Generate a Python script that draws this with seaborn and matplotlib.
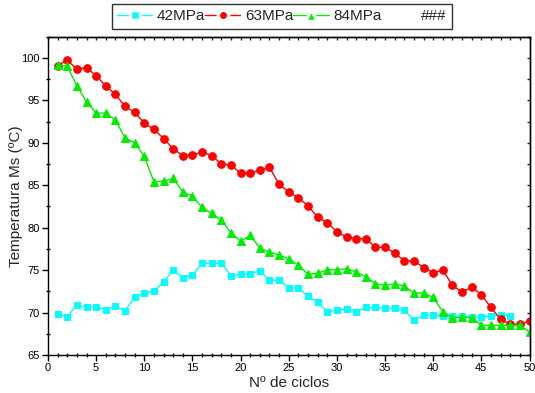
import numpy as np
import pandas as pd
import matplotlib
matplotlib.use("Agg")
import matplotlib.pyplot as plt
from matplotlib.lines import Line2D
from matplotlib.ticker import MultipleLocator
import seaborn as sns

ciclos_42 = list(range(1, 49))
temp_42 = [69.8, 69.5, 70.9, 70.6, 70.7, 70.3, 70.8, 70.2, 71.8, 72.3,
           72.5, 73.6, 75.0, 74.1, 74.4, 75.8, 75.8, 75.8, 74.3, 74.5,
           74.6, 74.9, 73.8, 73.8, 72.9, 72.9, 71.9, 71.2, 70.1, 70.3,
           70.4, 70.1, 70.6, 70.6, 70.5, 70.5, 70.25, 69.1, 69.7, 69.7,
           69.65, 69.6, 69.6, 69.5, 69.45, 69.65, 69.7, 69.6]

ciclos_63 = list(range(1, 51))
temp_63 = [99.1, 99.75, 98.65, 98.85, 97.9, 96.7, 95.7, 94.3, 93.6, 92.3,
           91.6, 90.5, 89.3, 88.5, 88.6, 88.9, 88.5, 87.5, 87.4, 86.4,
           86.4, 86.8, 87.1, 85.1, 84.2, 83.5, 82.6, 81.2, 80.6, 79.5,
           78.9, 78.7, 78.7, 77.7, 77.7, 77.0, 76.1, 76.1, 75.3, 74.7,
           75.0, 73.2, 72.4, 73.0, 72.1, 70.6, 69.2, 68.6, 68.6, 69.0]

ciclos_84 = list(range(1, 51))
temp_84 = [99.2, 99.0, 96.7, 94.85, 93.5, 93.5, 92.7, 90.55, 90.0, 88.4,
           85.4, 85.5, 85.8, 84.2, 83.7, 82.4, 81.7, 80.9, 79.4, 78.4,
           79.1, 77.6, 77.1, 76.8, 76.3, 75.6, 74.5, 74.65, 75.05, 75.05,
           75.15, 74.8, 74.2, 73.4, 73.2, 73.4, 73.1, 72.3, 72.3, 71.8,
           70.1, 69.4, 69.45, 69.4, 68.5, 68.5, 68.5, 68.5, 68.5, 67.7]

labels = ["42MPa", "63MPa", "84MPa", "###"]
colors = ["#00FFFF", "#FF0000", "#00EE00"]
markers = ["s", "o", "^"]

sns.set_style("ticks")
plt.rcParams['font.family'] = ['Liberation Sans', 'DejaVu Sans']
plt.rcParams['axes.linewidth'] = 1.0

fig = plt.figure(figsize=(5.35, 3.93), dpi=100)
ax = fig.add_axes([48/535, 1-355/393, (529.5-48)/535, (355-36.7)/393])

series = [(ciclos_42, temp_42), (ciclos_63, temp_63), (ciclos_84, temp_84)]
for (xs, ys), c, m, lab in zip(series, colors, markers, labels[:3]):
    df = pd.DataFrame({"x": xs, "y": ys})
    sns.lineplot(data=df, x="x", y="y", ax=ax, color=c, marker=m,
                 markersize=5.5 if m != "s" else 5, markeredgecolor=c,
                 linewidth=1.0, label=lab, legend=False)

ax.set_xlim(0, 50)
ax.set_ylim(65, 102.5)
ax.xaxis.set_major_locator(MultipleLocator(5))
ax.xaxis.set_minor_locator(MultipleLocator(1))
ax.yaxis.set_major_locator(MultipleLocator(5))
ax.yaxis.set_minor_locator(MultipleLocator(2.5))
ax.tick_params(axis='both', which='major', direction='out', length=4, width=1,
               labelsize=8, color='black', labelcolor='black', pad=2)
ax.tick_params(axis='both', which='minor', direction='inout', length=3, width=1, color='black')
for s in ax.spines.values():
    s.set_visible(True)
    s.set_color('black')

secx = ax.secondary_xaxis('top')
secx.xaxis.set_major_locator(MultipleLocator(5))
secx.xaxis.set_minor_locator(MultipleLocator(1))
secx.tick_params(which='both', direction='in', length=2, width=1, labeltop=False)
secy = ax.secondary_yaxis('right')
secy.yaxis.set_major_locator(MultipleLocator(5))
secy.yaxis.set_minor_locator(MultipleLocator(2.5))
secy.tick_params(which='both', direction='in', length=2, width=1, labelright=False)

ax.set_xlabel("Nº de ciclos", fontsize=11, labelpad=2)
ax.set_ylabel("Temperatura Ms (ºC)", fontsize=11, labelpad=-1)

leg_sizes = [7.5, 7.5, 8.5]
handles = [Line2D([], [], color=c, marker=m, markersize=ms, markerfacecolor=c,
                  markeredgecolor='white', markeredgewidth=2.5, linewidth=1)
           for c, m, ms in zip(colors, markers, leg_sizes)]
handles.append(Line2D([], [], color='none', linewidth=0))
leg = fig.legend(handles, labels, loc='upper center', bbox_to_anchor=(0.527, 0.99),
                 ncol=4, fontsize=11, frameon=True, fancybox=False, shadow=False,
                 handlelength=2.3, handletextpad=0.3, columnspacing=0.0,
                 borderpad=0.35, borderaxespad=0)
leg.get_frame().set_edgecolor('black')
leg.get_frame().set_linewidth(1.0)

fig.savefig("out.png", dpi=100)
